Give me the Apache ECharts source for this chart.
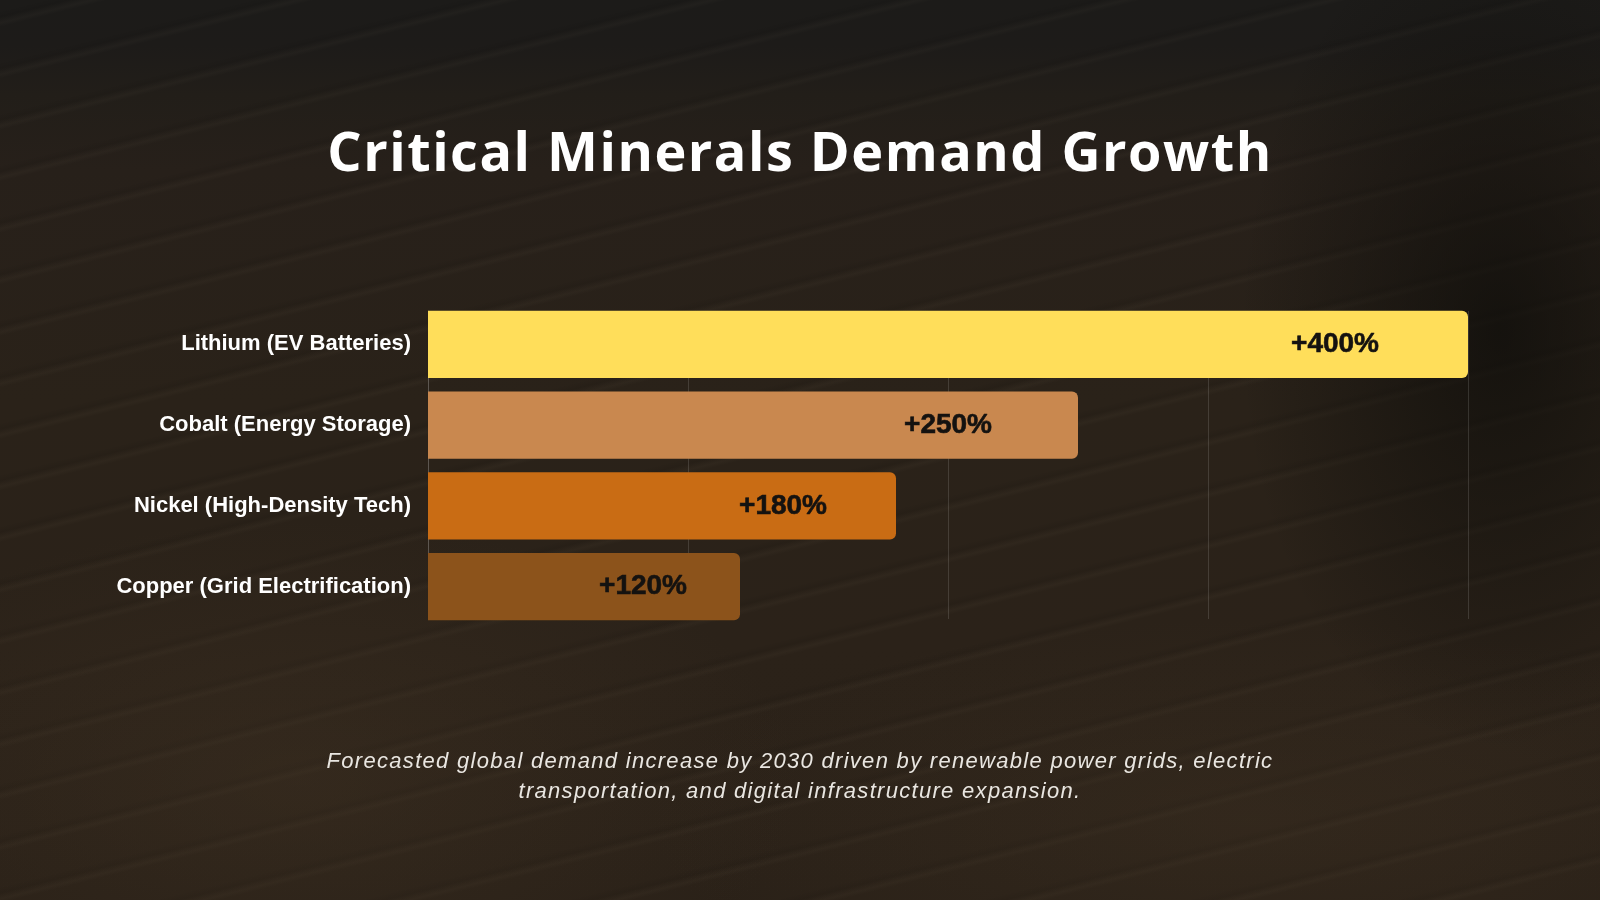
<!DOCTYPE html>
<html>
<head>
<meta charset="utf-8">
<script src="https://cdn.jsdelivr.net/npm/echarts@6/dist/echarts.min.js"></script>
<style>
  html, body { margin: 0; padding: 0; width: 1600px; height: 900px; overflow: hidden; background: #221c16; }
  #stage {
    position: relative; width: 1600px; height: 900px; overflow: hidden;
    background:
      radial-gradient(ellipse 260px 420px at 1500px 330px, rgba(14,13,10,0.75), rgba(14,13,10,0) 100%),
      radial-gradient(ellipse 500px 260px at 300px 780px, rgba(70,55,38,0.35), rgba(70,55,38,0) 100%),
      radial-gradient(ellipse 600px 200px at 1250px 820px, rgba(70,55,38,0.30), rgba(70,55,38,0) 100%),
      repeating-linear-gradient(-14deg, rgba(255,230,190,0.0) 0px, rgba(255,230,190,0.0) 34px, rgba(255,230,190,0.025) 38px, rgba(0,0,0,0.08) 44px, rgba(255,230,190,0.0) 50px),
      linear-gradient(180deg, #1c1b19 0px, #1d1b19 45px, #221e19 95px, #27201a 170px, #2a2219 400px, #2b2219 650px, #2a2118 900px);
  }
  #chart { position: absolute; left: 0; top: 0; width: 1600px; height: 900px; }
  #title {
    position: absolute; left: 0; width: 1600px; top: 112px; text-align: center;
    font-family: "Open Sans", sans-serif; font-weight: 700; font-size: 54px; letter-spacing: 1.5px;
    color: #ffffff; line-height: 76px;
  }
  #caption {
    position: absolute; left: 0; width: 1600px; top: 746px; text-align: center;
    font-family: "Liberation Sans", Arial, sans-serif; font-style: italic; font-size: 22px; letter-spacing: 1.3px;
    color: #e9e6e1; line-height: 30px;
  }
</style>
</head>
<body>
<div id="stage">
  <div id="chart"></div>
  <div id="title">Critical Minerals Demand Growth</div>
  <div id="caption">Forecasted global demand increase by 2030 driven by renewable power grids, electric<br>transportation, and digital infrastructure expansion.</div>
</div>
<script>
const categories = ["Lithium (EV Batteries)", "Cobalt (Energy Storage)", "Nickel (High-Density Tech)", "Copper (Grid Electrification)"];
const growthPercent = [400, 250, 180, 120];
const axisTicks = [0, 100, 200, 300, 400];

const barColors = ["#FFDE5A", "#C9884F", "#C96C14", "#8C531B"];
const labelDistances = [89, 86, 69, 53];

const chart = echarts.init(document.getElementById('chart'), null, { renderer: 'canvas', width: 1600, height: 900 });

const gridLineStyle = { color: 'rgba(255,255,255,0.13)', width: 1 };

chart.setOption({
  backgroundColor: 'transparent',
  animation: false,
  grid: [
    { left: 428, right: 132, top: 311, height: 308, containLabel: false },
    { left: 428, right: 132, top: 304, height: 323, containLabel: false }
  ],
  xAxis: [
    {
      gridIndex: 0, type: 'value',
      min: axisTicks[0], max: axisTicks[axisTicks.length - 1], interval: axisTicks[1] - axisTicks[0],
      axisLabel: { show: false }, axisLine: { show: false }, axisTick: { show: false },
      splitLine: { show: true, lineStyle: gridLineStyle }
    },
    {
      gridIndex: 1, type: 'value',
      min: axisTicks[0], max: axisTicks[axisTicks.length - 1], interval: axisTicks[1] - axisTicks[0],
      axisLabel: { show: false }, axisLine: { show: false }, axisTick: { show: false },
      splitLine: { show: false }
    }
  ],
  yAxis: [
    {
      gridIndex: 0, type: 'category', data: categories, inverse: true,
      axisLine: { show: true, lineStyle: gridLineStyle },
      axisTick: { show: false }, axisLabel: { show: false }
    },
    {
      gridIndex: 1, type: 'category', data: categories, inverse: true,
      axisLine: { show: false }, axisTick: { show: false },
      axisLabel: {
        color: '#ffffff', fontSize: 22, fontWeight: 'bold',
        fontFamily: '"Liberation Sans", Arial, sans-serif', margin: 17
      }
    }
  ],
  series: [{
    type: 'bar',
    xAxisIndex: 1,
    yAxisIndex: 1,
    barCategoryGap: '17%',
    data: growthPercent.map((v, i) => ({
      value: v,
      itemStyle: { color: barColors[i], borderRadius: [0, 6, 6, 0] },
      label: { distance: labelDistances[i] }
    })),
    label: {
      show: true,
      position: 'insideRight',
      formatter: p => '+' + p.value + '%',
      color: '#141210',
      fontSize: 28,
      fontWeight: 'bold',
      textBorderColor: '#141210',
      textBorderWidth: 0.6,
      fontFamily: '"Liberation Sans", Arial, sans-serif'
    }
  }]
});
</script>
</body>
</html>
